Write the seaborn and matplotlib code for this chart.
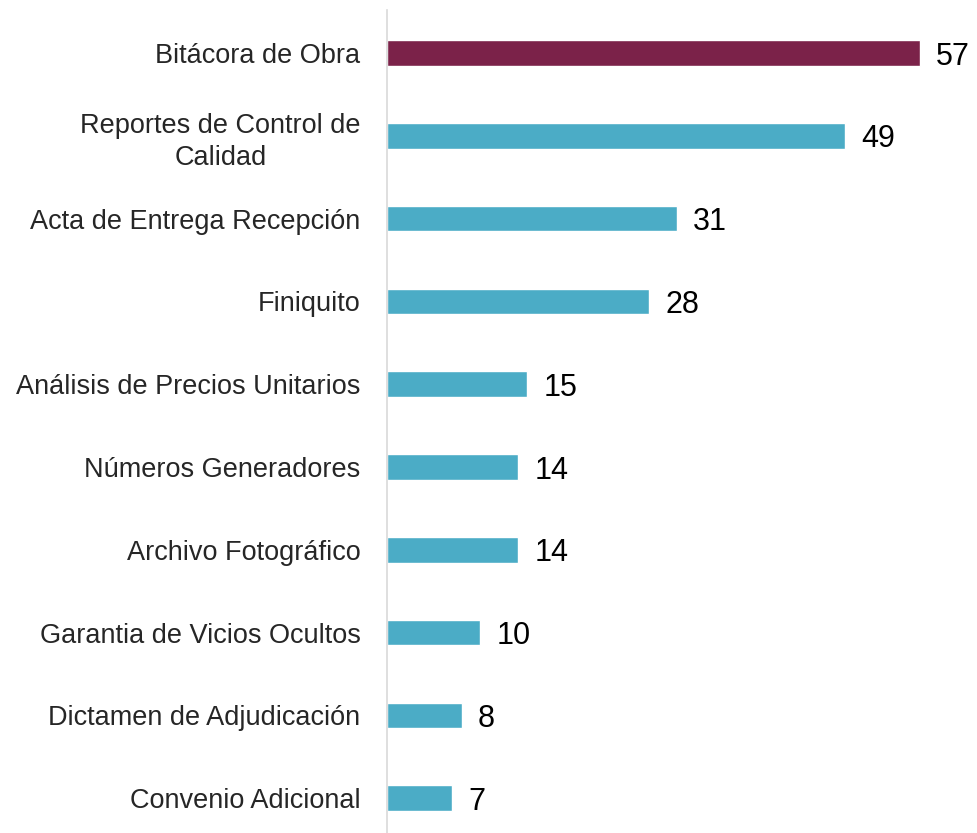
import matplotlib
matplotlib.use("Agg")
import matplotlib.pyplot as plt
import seaborn as sns
import pandas as pd

categories = [
    "Bitácora de Obra",
    "Reportes de Control de\nCalidad",
    "Acta de Entrega Recepción",
    "Finiquito",
    "Análisis de Precios Unitarios",
    "Números Generadores",
    "Archivo Fotográfico",
    "Garantia de Vicios Ocultos",
    "Dictamen de Adjudicación",
    "Convenio Adicional",
]
values = [57, 49, 31, 28, 15, 14, 14, 10, 8, 7]
highlight = "#7B2249"
base = "#4BACC6"
bar_colors = [highlight] + [base] * (len(values) - 1)

df = pd.DataFrame({"Documento": categories, "Cantidad": values})

sns.set_style("white")
plt.rcParams["font.family"] = ["Liberation Sans", "DejaVu Sans"]

fig = plt.figure(figsize=(9.77, 8.33), dpi=100)
ax = fig.add_axes([0.396, 0.0, 0.604, 0.988])

sns.barplot(data=df, x="Cantidad", y="Documento", hue="Documento",
            palette=bar_colors, legend=False, width=0.31, ax=ax,
            saturation=1)

for i, v in enumerate(values):
    ax.text(v + 1.75, i, str(v), va="center_baseline", ha="left",
            fontsize=22, color="black")

ax.set_xlim(0, 63.1)
ax.set_ylim(9.42, -0.52)
ax.set_xlabel("")
ax.set_ylabel("")
ax.set_xticks([])
ax.tick_params(axis="y", length=0, pad=19, labelsize=19.5, labelcolor="#262626")
for lbl in ax.get_yticklabels():
    lbl.set_multialignment("center")
    lbl.set_linespacing(1.3)
for s in ["top", "right", "bottom"]:
    ax.spines[s].set_visible(False)
ax.spines["left"].set_color("#D9D9D9")
ax.spines["left"].set_linewidth(1.2)

fig.savefig("out.png", dpi=100)
